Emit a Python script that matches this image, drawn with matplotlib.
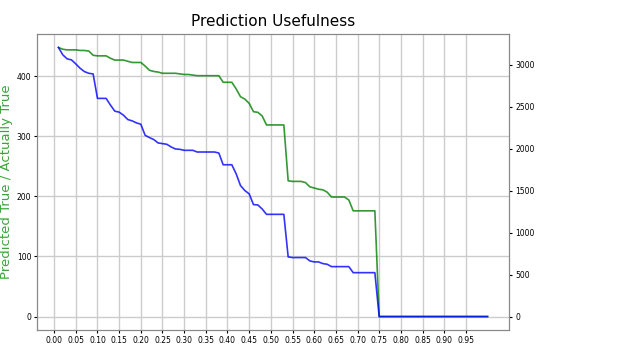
import numpy as np
import matplotlib
matplotlib.use("Agg")
import matplotlib.pyplot as plt

# thresholds 0.01 .. 1.00
thresholds = np.round(np.arange(1, 101) * 0.01, 2)

# left axis (green): predicted true count
predicted_true = [
    448, 445, 444, 444, 444, 443, 443, 442, 435, 434,
    434, 434, 430, 427, 427, 427, 425, 423, 423, 423,
    417, 410, 408, 407, 405, 405, 405, 405, 404, 403,
    403, 402, 401, 401, 401, 401, 401, 401, 390, 390,
    390, 379, 366, 362, 355, 341, 340, 334, 319, 319,
    319, 319, 319, 226, 225, 225, 225, 223, 216, 214,
    212, 211, 207, 199, 199, 199, 199, 194, 176, 176,
    176, 176, 176, 176, 0,
] + [0] * 25

# right axis (blue): actually true count
actually_true = [
    3207, 3119, 3071, 3059, 3011, 2959, 2919, 2899, 2891, 2600,
    2600, 2600, 2520, 2448, 2436, 2400, 2348, 2332, 2308, 2292,
    2160, 2133, 2109, 2069, 2061, 2053, 2021, 1997, 1993, 1981,
    1981, 1981, 1961, 1961, 1961, 1961, 1961, 1949, 1809, 1809,
    1809, 1701, 1561, 1502, 1462, 1334, 1330, 1282, 1218, 1218,
    1218, 1218, 1218, 711, 703, 703, 703, 703, 663, 651,
    651, 631, 623, 595, 595, 595, 595, 595, 523, 523,
    523, 523, 523, 523, 0,
] + [0] * 25

fig = plt.figure(figsize=(6.23, 3.45), dpi=100)
ax1 = fig.add_axes([37 / 623, 15 / 345, 472 / 623, 296 / 345])
ax2 = ax1.twinx()

ax1.plot(thresholds, predicted_true, color="g", linewidth=1.2, alpha=0.8)
ax2.plot(thresholds, actually_true, color="b", linewidth=1.2, alpha=0.8)

ax1.set_xticks(np.round(np.arange(0, 1, 0.05), 2))
ax1.tick_params(axis="both", labelsize=5.5, length=2.5, pad=1.5)
ax2.tick_params(axis="y", labelsize=5.5, length=2.5, pad=2)
ax1.grid(True, color="#cccccc", linewidth=1.0)

ax1.set_ylabel("Predicted True / Actually True", color="#3aa63a",
               fontsize=9.5, labelpad=3)
ax1.set_title("Prediction Usefulness", fontsize=11)

for ax in (ax1, ax2):
    for s in ax.spines.values():
        s.set_color("#888888")

fig.savefig("out.png", dpi=100)
